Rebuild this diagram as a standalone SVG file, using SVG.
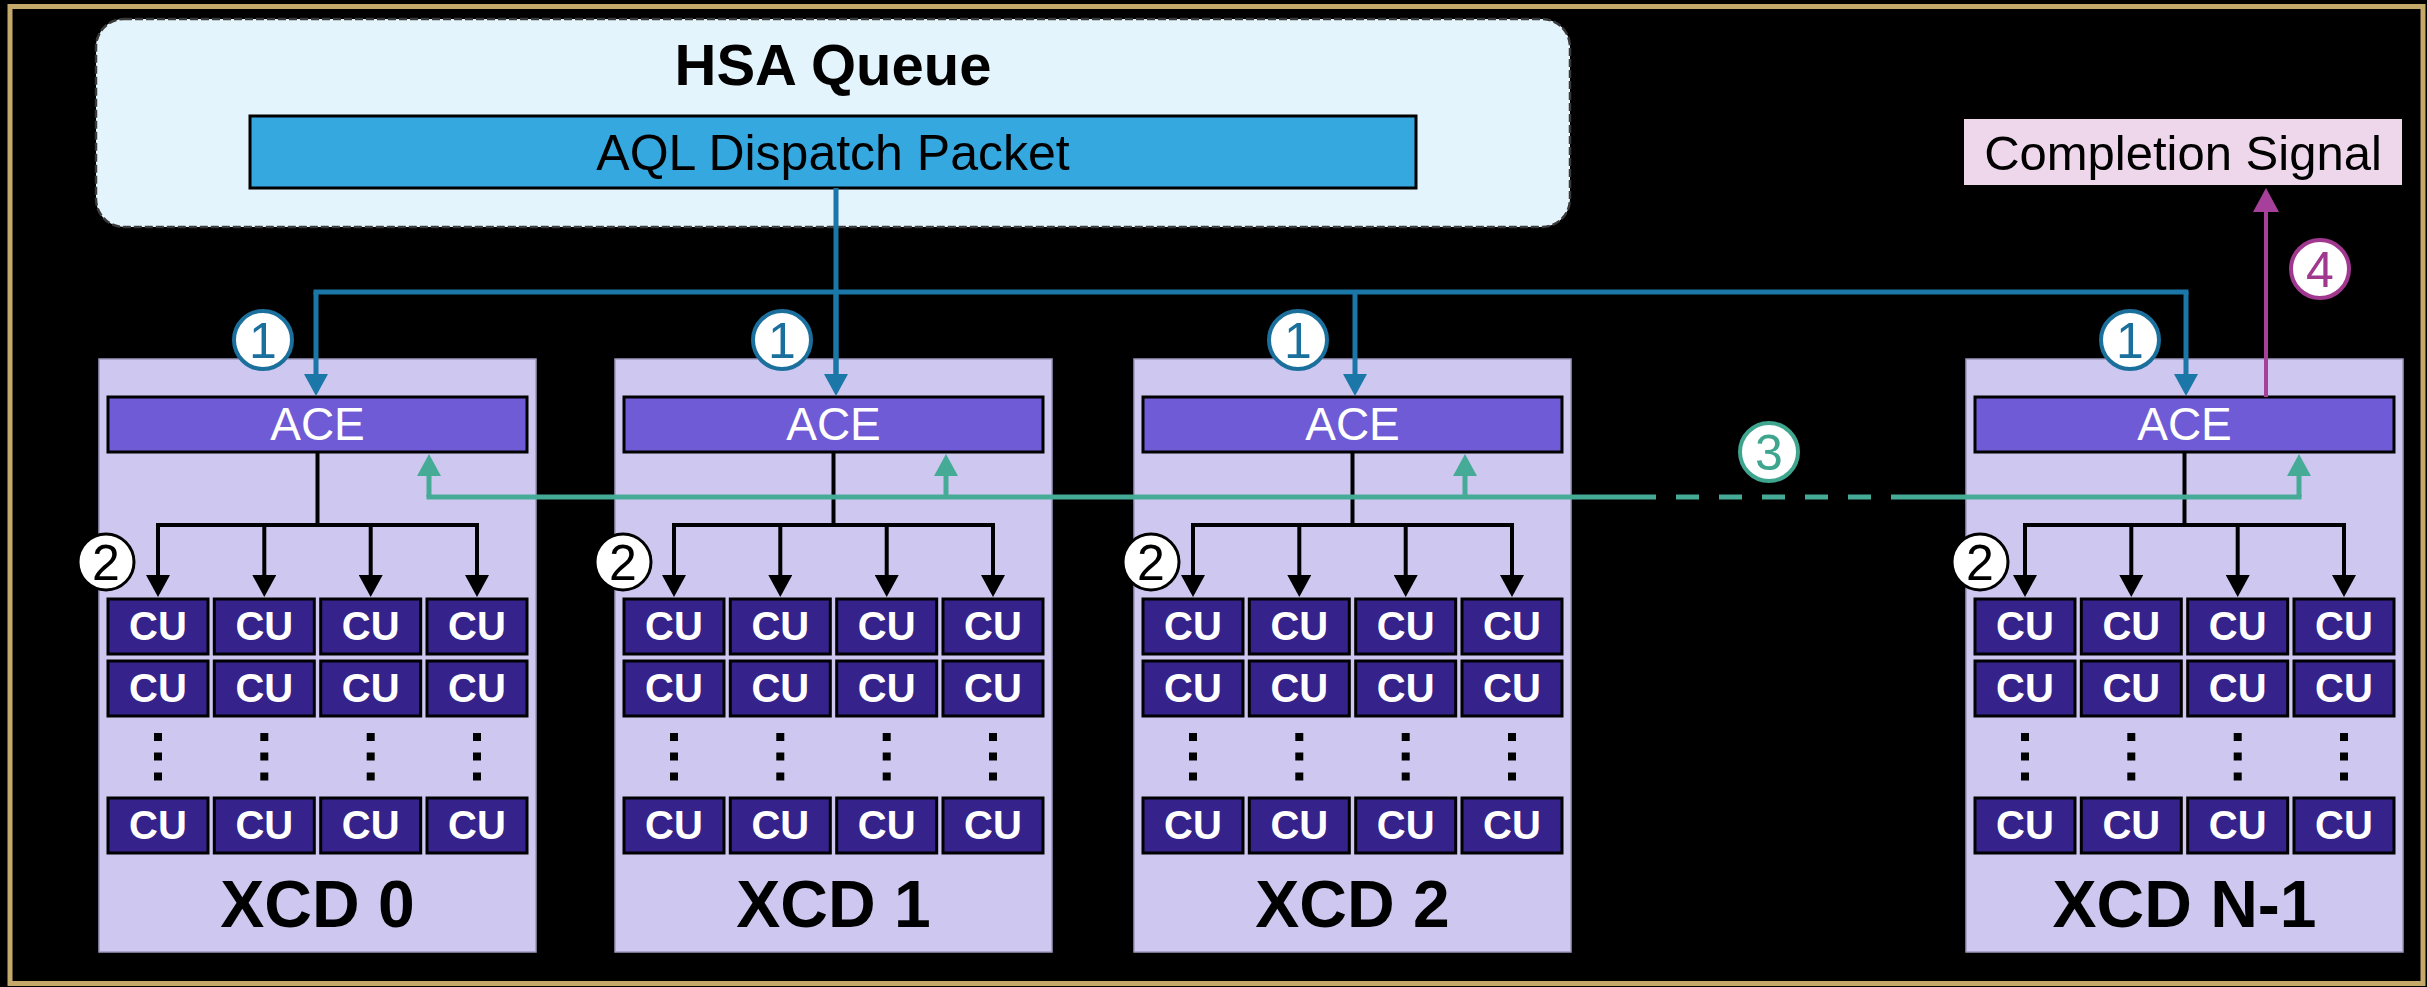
<svg xmlns="http://www.w3.org/2000/svg" width="2427" height="987" viewBox="0 0 2427 987">
<defs>
<style>
text{font-family:"Liberation Sans",Arial,sans-serif}
.xcd{fill:#CEC8F0;stroke:#9E98BE;stroke-width:1.5}
.ace{fill:#705BD6;stroke:#000;stroke-width:3}
.acet{fill:#fff;font-size:46px;text-anchor:middle}
.cu{fill:#35228A;stroke:#000;stroke-width:3}
.cut{fill:#fff;font-size:40px;font-weight:bold;text-anchor:middle}
.dot{fill:#000}
.lbl{fill:#000;font-size:66px;font-weight:bold;text-anchor:middle}
.blk{stroke:#000;stroke-width:4;fill:none}
.blu{stroke:#1A77A7;stroke-width:5;fill:none}
.grn{stroke:#46AB96;stroke-width:5;fill:none}
.mag{stroke:#A6409B;stroke-width:4;fill:none}
.c1{fill:#fff;stroke:#1A6F9C;stroke-width:4}
.c2{fill:#fff;stroke:#000;stroke-width:3}
.c3{fill:#fff;stroke:#3FA58E;stroke-width:4}
.c4{fill:#fff;stroke:#A0388F;stroke-width:4}
.num{font-size:50px;text-anchor:middle}
</style>
<marker id="ab" viewBox="0 0 22 24" refX="12" refY="12" markerWidth="22" markerHeight="24" markerUnits="userSpaceOnUse" orient="auto"><path d="M0,0 L22,12 L0,24 z" fill="#000"/></marker>
<marker id="au" viewBox="0 0 22 24" refX="12" refY="12" markerWidth="22" markerHeight="24" markerUnits="userSpaceOnUse" orient="auto"><path d="M0,0 L22,12 L0,24 z" fill="#1A77A7"/></marker>
<marker id="ag" viewBox="0 0 22 24" refX="12" refY="12" markerWidth="22" markerHeight="24" markerUnits="userSpaceOnUse" orient="auto"><path d="M0,0 L22,12 L0,24 z" fill="#46AB96"/></marker>
<marker id="am" viewBox="0 0 24 26" refX="13" refY="13" markerWidth="24" markerHeight="26" markerUnits="userSpaceOnUse" orient="auto"><path d="M0,0 L24,13 L0,26 z" fill="#A6409B"/></marker>
<g id="curow">
<rect class="cu" x="9" y="0" width="100" height="55"/><rect class="cu" x="115.3" y="0" width="100" height="55"/><rect class="cu" x="221.7" y="0" width="100" height="55"/><rect class="cu" x="328" y="0" width="100" height="55"/>
<text class="cut" x="59" y="41">CU</text><text class="cut" x="165.3" y="41">CU</text><text class="cut" x="271.7" y="41">CU</text><text class="cut" x="378" y="41">CU</text>
</g>
<g id="dots" class="dot">
<rect x="55" y="733" width="8" height="8"/><rect x="55" y="752.5" width="8" height="8"/><rect x="55" y="772.5" width="8" height="8"/>
<rect x="161.3" y="733" width="8" height="8"/><rect x="161.3" y="752.5" width="8" height="8"/><rect x="161.3" y="772.5" width="8" height="8"/>
<rect x="267.7" y="733" width="8" height="8"/><rect x="267.7" y="752.5" width="8" height="8"/><rect x="267.7" y="772.5" width="8" height="8"/>
<rect x="374" y="733" width="8" height="8"/><rect x="374" y="752.5" width="8" height="8"/><rect x="374" y="772.5" width="8" height="8"/>
</g>
</defs>
<rect x="0" y="0" width="2427" height="987" fill="#000"/>
<rect x="10" y="6.5" width="2413" height="977" fill="none" stroke="#C4A96A" stroke-width="5"/>

<g id="hsa-queue">
<rect x="96" y="19" width="1474" height="208" rx="28" fill="#E4F4FC" stroke="#3A3A3A" stroke-width="2.5" stroke-dasharray="8 3"/>
<text x="833" y="85" font-size="58" font-weight="bold" text-anchor="middle">HSA Queue</text>
</g>
<g id="aql-packet">
<rect x="250" y="116" width="1166" height="72" fill="#36A8E0" stroke="#000" stroke-width="3"/>
<text x="833" y="170" font-size="50" text-anchor="middle">AQL Dispatch Packet</text>
</g>
<g id="completion-signal">
<rect x="1964" y="119" width="438" height="66" fill="#EFD7EB"/>
<text x="2183" y="170" font-size="49" text-anchor="middle">Completion Signal</text>
</g>

<g id="xcd0">
<rect class="xcd" x="99" y="359" width="437" height="593"/>
<rect class="ace" x="108" y="397" width="419" height="55"/>
<text class="acet" x="317.5" y="440">ACE</text>
<use href="#curow" x="99" y="599"/><use href="#curow" x="99" y="661"/><use href="#curow" x="99" y="798"/>
<use href="#dots" x="99" y="0"/>
<text class="lbl" x="317.5" y="927">XCD 0</text>
</g>
<g id="xcd1">
<rect class="xcd" x="615" y="359" width="437" height="593"/>
<rect class="ace" x="624" y="397" width="419" height="55"/>
<text class="acet" x="833.5" y="440">ACE</text>
<use href="#curow" x="615" y="599"/><use href="#curow" x="615" y="661"/><use href="#curow" x="615" y="798"/>
<use href="#dots" x="615" y="0"/>
<text class="lbl" x="833.5" y="927">XCD 1</text>
</g>
<g id="xcd2">
<rect class="xcd" x="1134" y="359" width="437" height="593"/>
<rect class="ace" x="1143" y="397" width="419" height="55"/>
<text class="acet" x="1352.5" y="440">ACE</text>
<use href="#curow" x="1134" y="599"/><use href="#curow" x="1134" y="661"/><use href="#curow" x="1134" y="798"/>
<use href="#dots" x="1134" y="0"/>
<text class="lbl" x="1352.5" y="927">XCD 2</text>
</g>
<g id="xcdn1">
<rect class="xcd" x="1966" y="359" width="437" height="593"/>
<rect class="ace" x="1975" y="397" width="419" height="55"/>
<text class="acet" x="2184.5" y="440">ACE</text>
<use href="#curow" x="1966" y="599"/><use href="#curow" x="1966" y="661"/><use href="#curow" x="1966" y="798"/>
<use href="#dots" x="1966" y="0"/>
<text class="lbl" x="2184.5" y="927">XCD N-1</text>
</g>

<g id="connectors">
<path class="blu" d="M836,188 V386"/>
<path class="blu" d="M313.5,292 H2188.5"/>
<path class="blu" d="M316,292 V386" marker-end="url(#au)"/>
<path class="blu" d="M836,292 V386" marker-end="url(#au)"/>
<path class="blu" d="M1355,292 V386" marker-end="url(#au)"/>
<path class="blu" d="M2186,292 V386" marker-end="url(#au)"/>
<path class="blk" d="M317.5,452 V525 M156,525 H479"/>
<path class="blk" d="M158,525 V587" marker-end="url(#ab)"/><path class="blk" d="M264.3,525 V587" marker-end="url(#ab)"/><path class="blk" d="M370.7,525 V587" marker-end="url(#ab)"/><path class="blk" d="M477,525 V587" marker-end="url(#ab)"/>
<path class="blk" d="M833.5,452 V525 M672,525 H995"/>
<path class="blk" d="M674,525 V587" marker-end="url(#ab)"/><path class="blk" d="M780.3,525 V587" marker-end="url(#ab)"/><path class="blk" d="M886.7,525 V587" marker-end="url(#ab)"/><path class="blk" d="M993,525 V587" marker-end="url(#ab)"/>
<path class="blk" d="M1352.5,452 V525 M1191,525 H1514"/>
<path class="blk" d="M1193,525 V587" marker-end="url(#ab)"/><path class="blk" d="M1299.3,525 V587" marker-end="url(#ab)"/><path class="blk" d="M1405.7,525 V587" marker-end="url(#ab)"/><path class="blk" d="M1512,525 V587" marker-end="url(#ab)"/>
<path class="blk" d="M2184.5,452 V525 M2023,525 H2346"/>
<path class="blk" d="M2025,525 V587" marker-end="url(#ab)"/><path class="blk" d="M2131.3,525 V587" marker-end="url(#ab)"/><path class="blk" d="M2237.7,525 V587" marker-end="url(#ab)"/><path class="blk" d="M2344,525 V587" marker-end="url(#ab)"/>
<path class="grn" d="M426.5,497 H1633"/>
<path class="grn" d="M1633,497 H1905" stroke-dasharray="23 20"/>
<path class="grn" d="M1905,497 H2301.5"/>
<path class="grn" d="M429,497 V464" marker-end="url(#ag)"/>
<path class="grn" d="M946,497 V464" marker-end="url(#ag)"/>
<path class="grn" d="M1465,497 V464" marker-end="url(#ag)"/>
<path class="grn" d="M2299,497 V464" marker-end="url(#ag)"/>
<path class="mag" d="M2266,397 V199" marker-end="url(#am)"/>
</g>

<g id="step-labels">
<circle class="c1" cx="263" cy="340" r="29"/><text class="num" x="263" y="358" fill="#1A6F9C">1</text>
<circle class="c1" cx="782" cy="340" r="29"/><text class="num" x="782" y="358" fill="#1A6F9C">1</text>
<circle class="c1" cx="1298" cy="340" r="29"/><text class="num" x="1298" y="358" fill="#1A6F9C">1</text>
<circle class="c1" cx="2130" cy="340" r="29"/><text class="num" x="2130" y="358" fill="#1A6F9C">1</text>
<circle class="c2" cx="106" cy="562" r="28"/><text class="num" x="106" y="580" fill="#000">2</text>
<circle class="c2" cx="623" cy="562" r="28"/><text class="num" x="623" y="580" fill="#000">2</text>
<circle class="c2" cx="1151" cy="562" r="28"/><text class="num" x="1151" y="580" fill="#000">2</text>
<circle class="c2" cx="1980" cy="562" r="28"/><text class="num" x="1980" y="580" fill="#000">2</text>
<circle class="c3" cx="1769" cy="452" r="29"/><text class="num" x="1769" y="470" fill="#3FA58E">3</text>
<circle class="c4" cx="2320" cy="269" r="29"/><text class="num" x="2320" y="287" fill="#A0388F">4</text>
</g>
</svg>
